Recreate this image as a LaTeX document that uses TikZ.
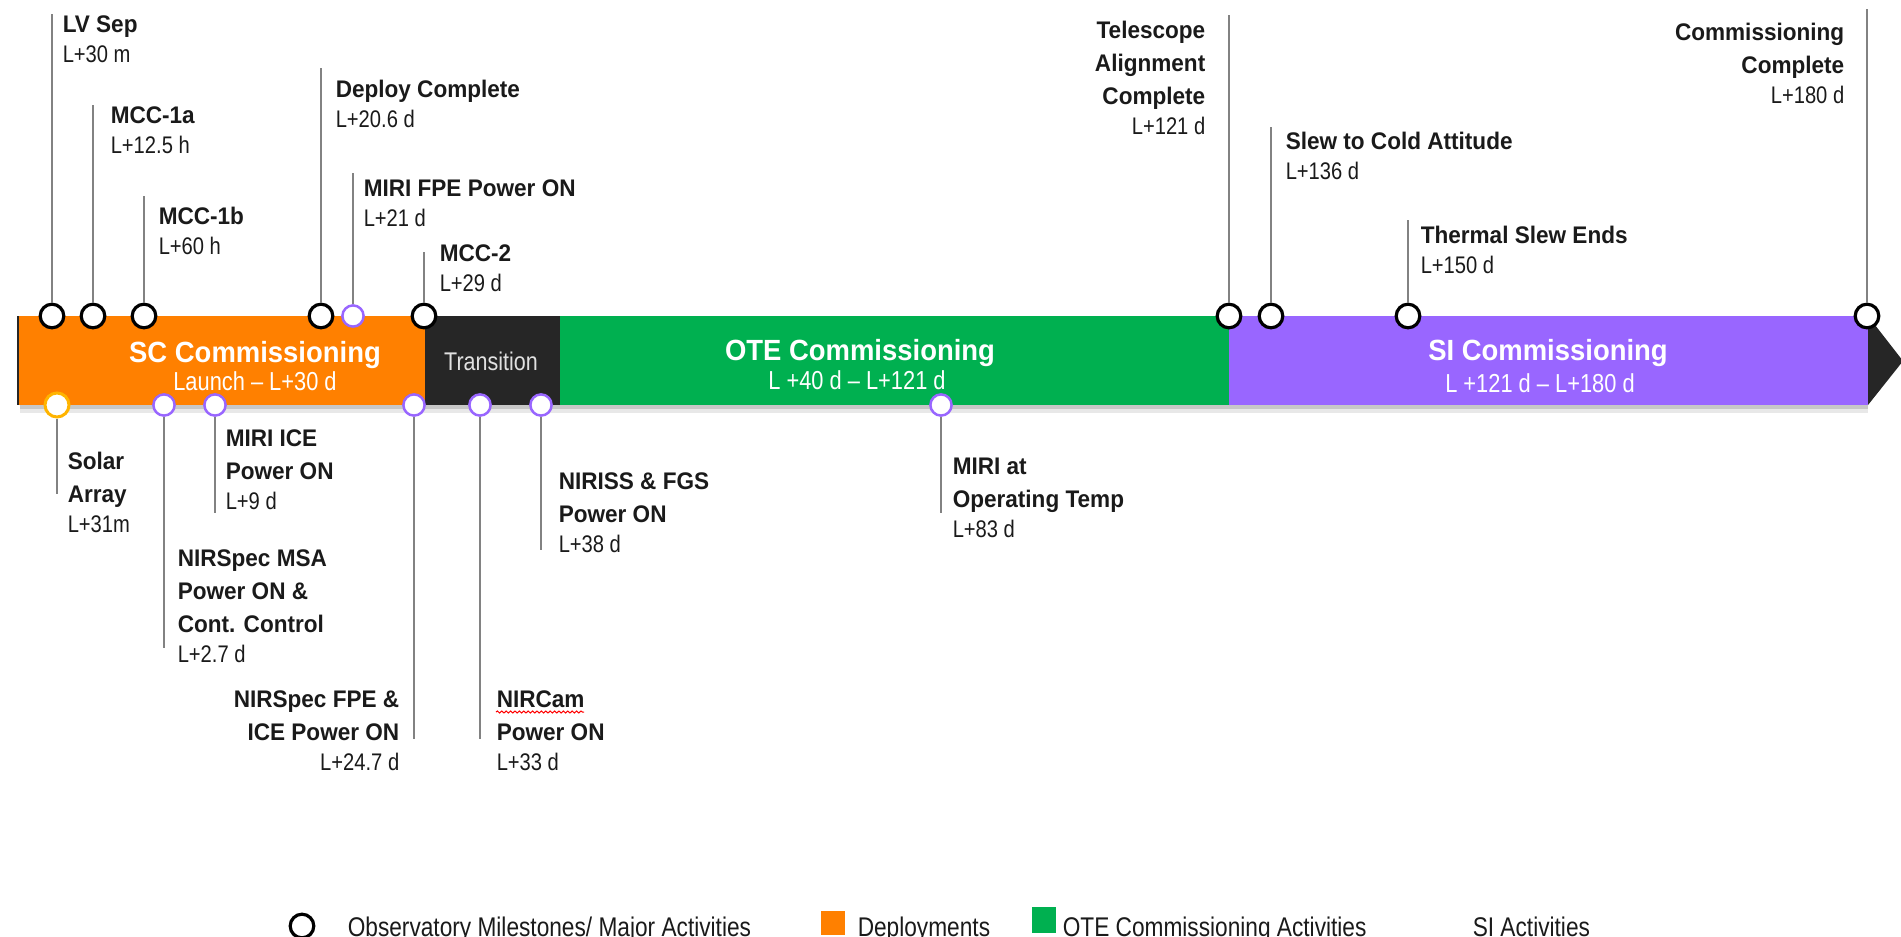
\documentclass[tikz,border=0pt]{standalone}
\usepackage{fontspec}
\setmainfont{Liberation Sans}[FakeStretch=0.84]
\newfontfamily\msfont{Liberation Sans}[FakeStretch=0.94]
\usetikzlibrary{decorations.pathmorphing}

\definecolor{scorange}{RGB}{255,128,0}
\definecolor{trdark}{RGB}{38,38,38}
\definecolor{otegreen}{RGB}{0,176,80}
\definecolor{sipurple}{RGB}{153,102,255}
\definecolor{solargold}{RGB}{255,180,0}
\definecolor{stemgray}{RGB}{130,130,130}
\definecolor{trtext}{RGB}{225,225,225}
\definecolor{lbltext}{RGB}{26,26,26}

\newcommand\ms[1]{{\msfont\bfseries #1}}

\tikzset{every picture/.style={line width=0.75pt},
  mstone/.style={circle, draw=black, fill=white, line width=1.6pt, minimum size=11.8pt, inner sep=0pt},
  siact/.style={circle, draw=sipurple, fill=white, line width=1.25pt, minimum size=10.6pt, inner sep=0pt},
  deploy/.style={circle, draw=solargold, fill=white, line width=1.5pt, minimum size=12pt, inner sep=0pt},
  stem/.style={draw=stemgray, line width=0.75pt},
  lbl/.style={anchor=base west, inner sep=0pt, align=left, text=lbltext, font=\fontsize{12}{16.5}\selectfont},
  lblr/.style={lbl, anchor=base east, align=right},
  bartitle/.style={anchor=base, inner sep=0pt, text=white, font=\msfont\bfseries\fontsize{14.6}{16}\selectfont},
  barsub/.style={anchor=base, inner sep=0pt, text=white, font=\fontsize{13}{15}\selectfont},
  legtext/.style={anchor=base west, inner sep=0pt, text=lbltext, font=\fontsize{13.5}{15}\selectfont}
}

\begin{document}
\begin{tikzpicture}[x=0.5pt,y=0.5pt,yscale=-1,xscale=1]
\useasboundingbox (0,0) rectangle (1901,937);

%Shapes: shadow under the bar
\fill[black!22] (20,405) rectangle (1868,409);
\fill[black!9] (20,409) rectangle (1868,413);
%Shapes: phases of the bar
\fill[scorange] (18,316) rectangle (425,405);
\fill[trdark] (425,316) rectangle (560,405);
\fill[otegreen] (560,316) rectangle (1229,405);
\fill[sipurple] (1229,316) rectangle (1868,405);
\fill[trdark] (1868,316) -- (1903,361) -- (1868,405) -- cycle;
\draw[trdark, line width=1pt] (18,316) -- (18,405);

% Text Node: phase names
\node[bartitle] (sc) at (255,362) {SC Commissioning};
\node[barsub] (sc-sub) at (255,390) {Launch -- L+30 d};
\node[barsub, text=trtext, font=\fontsize{12.8}{14}\selectfont] (trans) at (491,370) {Transition};
\node[bartitle] (ote) at (860,360) {OTE Commissioning};
\node[barsub] (ote-sub) at (857,389) {L +40 d -- L+121 d};
\node[bartitle] (si) at (1548,360) {SI Commissioning};
\node[barsub] (si-sub) at (1540,392) {L +121 d -- L+180 d};

% Milestones above the bar
\node[mstone] (lvsep) at (52,316) {};
\node[mstone] (mcca) at (93,316) {};
\node[mstone] (mccb) at (144,316) {};
\node[mstone] (depl) at (321,316) {};
\node[siact] (mirifpe) at (353,316) {};
\node[mstone] (mcctwo) at (424,316) {};
\node[mstone] (tele) at (1229,316) {};
\node[mstone] (slew) at (1271,316) {};
\node[mstone] (therm) at (1408,316) {};
\node[mstone] (cdone) at (1867,316) {};

% Activities below the bar
\node[deploy] (solar) at (57,405) {};
\node[siact] (msa) at (164,405) {};
\node[siact] (miriice) at (215,405) {};
\node[siact] (nsfpe) at (414,405) {};
\node[siact] (nircam) at (480,405) {};
\node[siact] (niriss) at (541,405) {};
\node[siact] (miritemp) at (941,405) {};

% stem ends
\coordinate (lvsep-e) at (52,14);
\coordinate (mcca-e) at (93,105);
\coordinate (mccb-e) at (144,196);
\coordinate (depl-e) at (321,68);
\coordinate (mirifpe-e) at (353,173);
\coordinate (mcctwo-e) at (424,252);
\coordinate (tele-e) at (1229,15);
\coordinate (slew-e) at (1271,127);
\coordinate (therm-e) at (1408,220);
\coordinate (cdone-e) at (1867,9);
\coordinate (solar-e) at (57,494);
\coordinate (msa-e) at (164,648);
\coordinate (miriice-e) at (215,513);
\coordinate (nsfpe-e) at (414,739);
\coordinate (nircam-e) at (480,739);
\coordinate (niriss-e) at (541,550);
\coordinate (miritemp-e) at (941,513);

%Straight Lines
\draw[stem] (lvsep) -- (lvsep-e);
\draw[stem] (mcca) -- (mcca-e);
\draw[stem] (mccb) -- (mccb-e);
\draw[stem] (depl) -- (depl-e);
\draw[stem] (mirifpe) -- (mirifpe-e);
\draw[stem] (mcctwo) -- (mcctwo-e);
\draw[stem] (tele) -- (tele-e);
\draw[stem] (slew) -- (slew-e);
\draw[stem] (therm) -- (therm-e);
\draw[stem] (cdone) -- (cdone-e);
\draw[stem] (solar) -- (solar-e);
\draw[stem] (msa) -- (msa-e);
\draw[stem] (miriice) -- (miriice-e);
\draw[stem] (nsfpe) -- (nsfpe-e);
\draw[stem] (nircam) -- (nircam-e);
\draw[stem] (niriss) -- (niriss-e);
\draw[stem] (miritemp) -- (miritemp-e);

% Text Node: labels above (placed at the baseline of the last line)
\node[lbl] (lvsep-l) at (62,62) {\ms{LV Sep}\\[-1.5pt]L+30 m};
\node[lbl] (mcca-l) at (110,153) {\ms{MCC-1a}\\[-1.5pt]L+12.5 h};
\node[lbl] (mccb-l) at (158,254) {\ms{MCC-1b}\\[-1.5pt]L+60 h};
\node[lbl] (depl-l) at (335,127) {\ms{Deploy Complete}\\[-1.5pt]L+20.6 d};
\node[lbl] (mirifpe-l) at (363,226) {\ms{MIRI FPE Power ON}\\[-1.5pt]L+21 d};
\node[lbl] (mcctwo-l) at (439,291) {\ms{MCC-2}\\[-1.5pt]L+29 d};
\node[lblr] (tele-l) at (1206,134) {\ms{Telescope}\\\ms{Alignment}\\\ms{Complete}\\[-1.5pt]L+121 d};
\node[lbl] (slew-l) at (1285,179) {\ms{Slew to Cold Attitude}\\[-1.5pt]L+136 d};
\node[lbl] (therm-l) at (1420,273) {\ms{Thermal Slew Ends}\\[-1.5pt]L+150 d};
\node[lblr] (cdone-l) at (1845,103) {\ms{Commissioning}\\\ms{Complete}\\[-1.5pt]L+180 d};

% Text Node: labels below
\node[lbl] (solar-l) at (67,532) {\ms{Solar}\\\ms{Array}\\[-1.5pt]L+31m};
\node[lbl] (msa-l) at (177,662) {\ms{NIRSpec MSA}\\\ms{Power ON \&}\\\ms{Cont. Control}\\[-1.5pt]L+2.7 d};
\node[lbl] (miriice-l) at (225,509) {\ms{MIRI ICE}\\\ms{Power ON}\\[-1.5pt]L+9 d};
\node[lblr] (nsfpe-l) at (400,770) {\ms{NIRSpec FPE \&}\\\ms{ICE Power ON}\\[-1.5pt]L+24.7 d};
\node[lbl] (nircam-l) at (496,770) {\ms{NIRCam}\\\ms{Power ON}\\[-1.5pt]L+33 d};
\node[lbl] (niriss-l) at (558,552) {\ms{NIRISS \& FGS}\\\ms{Power ON}\\[-1.5pt]L+38 d};
\node[lbl] (miritemp-l) at (952,537) {\ms{MIRI at}\\\ms{Operating Temp}\\[-1.5pt]L+83 d};
\draw[red, line width=0.5pt, decorate, decoration={snake, amplitude=0.5pt, segment length=2.2pt}] (496,712) -- (584,712);

% Legend
\node[mstone] (leg-ms) at (302,926) {};
\node[legtext] (leg-ms-l) at (347,936) {Observatory Milestones/ Major Activities};
\fill[scorange] (821,911) rectangle (845,935);
\node[legtext] (leg-dep-l) at (857,936) {Deployments};
\fill[otegreen] (1032,907) rectangle (1056,933);
\node[legtext] (leg-ote-l) at (1062,936) {OTE Commissioning Activities};
\node[legtext] (leg-si-l) at (1472,936) {SI Activities};
\end{tikzpicture}
\end{document}
